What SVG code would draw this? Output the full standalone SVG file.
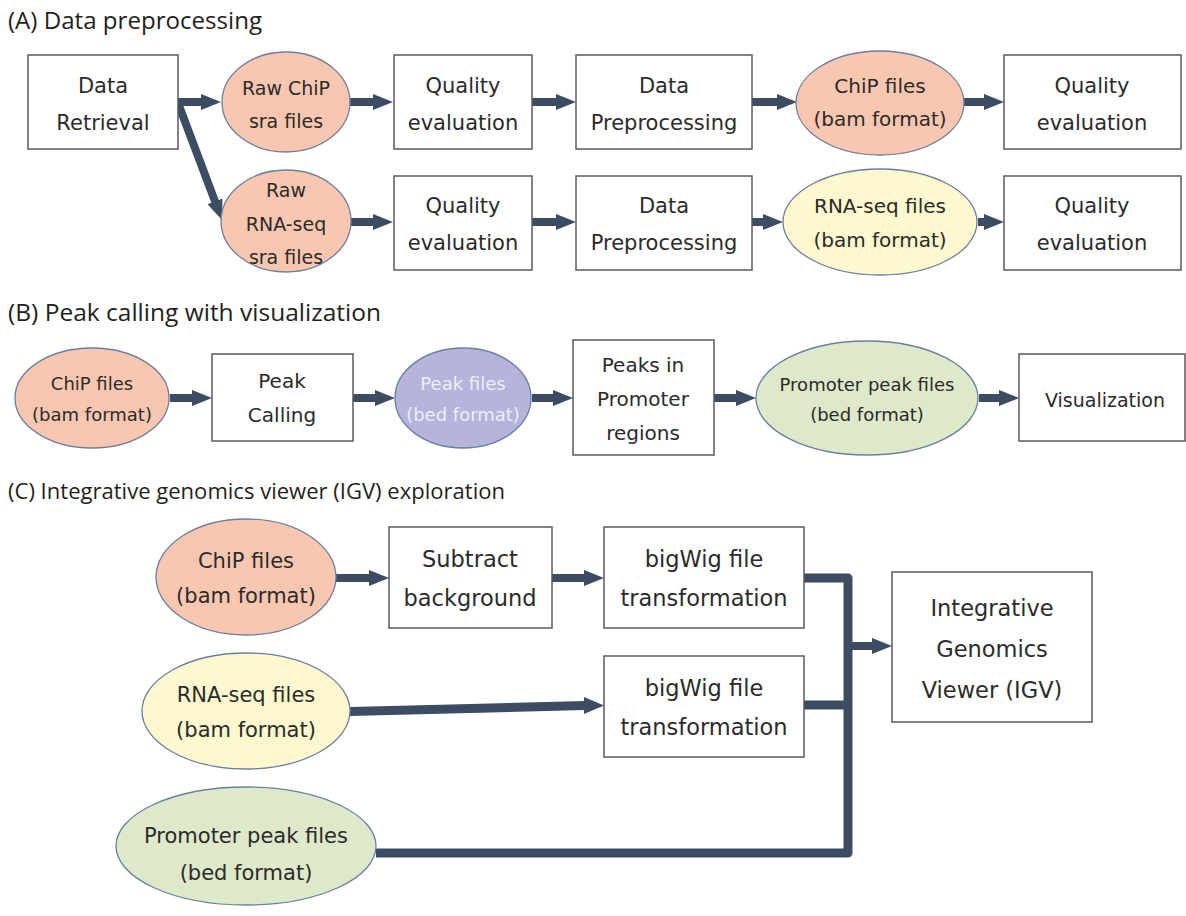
<svg xmlns="http://www.w3.org/2000/svg" width="1186" height="916" viewBox="0 0 1186 916">
<defs>
<style>
.bx{fill:#fff;stroke:#5a5a5a;stroke-width:1.5}
.el{stroke:#6b7fa3;stroke-width:1.3}
.sal{fill:#f9c7af}
.yel{fill:#fdf8cd}
.pur{fill:#b6b4db}
.grn{fill:#dde9c8}
.t{font-family:"DejaVu Sans",Verdana,sans-serif;fill:#2b2b2b;text-anchor:middle}
.ttl{font-family:"Open Sans","Liberation Sans",sans-serif;fill:#231f20}
.ar{fill:none;stroke:#3c4c63;stroke-width:8;marker-end:url(#ah)}
.bus{fill:none;stroke:#3c4c63;stroke-width:9;stroke-linejoin:round}
</style>
<marker id="ah" markerUnits="userSpaceOnUse" markerWidth="20" markerHeight="16" viewBox="0 0 20 16" refX="1" refY="8" orient="auto">
<path d="M0,0 L20,8 L0,16 z" fill="#3c4c63"/>
</marker>
</defs>
<rect width="1186" height="916" fill="#fff"/>

<text class="ttl" x="8" y="29" font-size="24" textLength="254" lengthAdjust="spacingAndGlyphs">(A) Data preprocessing</text>
<text class="ttl" x="8" y="321" font-size="24" textLength="373" lengthAdjust="spacingAndGlyphs">(B) Peak calling with visualization</text>
<text class="ttl" x="8" y="499" font-size="21" textLength="497" lengthAdjust="spacingAndGlyphs">(C) Integrative genomics viewer (IGV) exploration</text>

<g id="connectors">
<line class="ar" x1="176" y1="102" x2="202" y2="102"/>
<line class="ar" x1="178" y1="103" x2="215.3" y2="202.2"/>
<line class="ar" x1="350" y1="102" x2="374" y2="102"/>
<line class="ar" x1="532" y1="102" x2="557" y2="102"/>
<line class="ar" x1="752" y1="102" x2="778" y2="102"/>
<line class="ar" x1="964" y1="102" x2="985" y2="102"/>
<line class="ar" x1="351" y1="222" x2="374" y2="222"/>
<line class="ar" x1="532" y1="222" x2="557" y2="222"/>
<line class="ar" x1="752" y1="222" x2="764" y2="222"/>
<line class="ar" x1="978" y1="222" x2="985" y2="222"/>

<line class="ar" x1="170" y1="398" x2="193" y2="398"/>
<line class="ar" x1="353" y1="398" x2="376" y2="398"/>
<line class="ar" x1="532" y1="398" x2="554" y2="398"/>
<line class="ar" x1="714" y1="398" x2="737" y2="398"/>
<line class="ar" x1="979" y1="398" x2="1000" y2="398"/>

<line class="ar" x1="336" y1="578" x2="370" y2="578"/>
<line class="ar" x1="552" y1="578" x2="585" y2="578"/>
<path d="M350,707 L350,716 L585,710 L585,701 z" fill="#3c4c63"/>
<path d="M584,697 L604,705.5 L584,714 z" fill="#3c4c63"/>
<path class="bus" d="M804,578 H848 V853 H376"/>
<path class="bus" d="M804,705 H848"/>
<line class="ar" x1="848" y1="646" x2="873" y2="646"/>
</g>

<g id="a-data-retrieval"><rect class="bx" x="28" y="55" width="150" height="94"/>
<text class="t" x="103" y="93" font-size="21">Data</text><text class="t" x="103" y="130" font-size="21">Retrieval</text></g>
<g id="a-raw-chip"><ellipse class="el sal" cx="286" cy="102" rx="64" ry="50"/>
<text class="t" x="286" y="95" font-size="19">Raw ChiP</text><text class="t" x="286" y="128" font-size="19">sra files</text></g>
<g id="a-raw-rna"><ellipse class="el sal" cx="286" cy="221" rx="65" ry="51"/>
<text class="t" x="286" y="197" font-size="19">Raw</text><text class="t" x="286" y="231" font-size="19">RNA-seq</text><text class="t" x="286" y="264" font-size="19">sra files</text></g>
<g id="a-qe1"><rect class="bx" x="394" y="55" width="138" height="94"/>
<text class="t" x="463" y="93" font-size="21">Quality</text><text class="t" x="463" y="130" font-size="21">evaluation</text></g>
<g id="a-dp1"><rect class="bx" x="576" y="55" width="176" height="94"/>
<text class="t" x="664" y="93" font-size="21">Data</text><text class="t" x="664" y="130" font-size="21">Preprocessing</text></g>
<g id="a-chip-bam"><ellipse class="el sal" cx="880" cy="103" rx="84" ry="52"/>
<text class="t" x="880" y="93" font-size="20">ChiP files</text><text class="t" x="880" y="126" font-size="20">(bam format)</text></g>
<g id="a-qe2"><rect class="bx" x="1004" y="55" width="177" height="94"/>
<text class="t" x="1092" y="93" font-size="21">Quality</text><text class="t" x="1092" y="130" font-size="21">evaluation</text></g>
<g id="a-qe3"><rect class="bx" x="394" y="176" width="138" height="94"/>
<text class="t" x="463" y="213" font-size="21">Quality</text><text class="t" x="463" y="250" font-size="21">evaluation</text></g>
<g id="a-dp2"><rect class="bx" x="576" y="176" width="176" height="94"/>
<text class="t" x="664" y="213" font-size="21">Data</text><text class="t" x="664" y="250" font-size="21">Preprocessing</text></g>
<g id="a-rna-bam"><ellipse class="el yel" cx="880" cy="222" rx="97" ry="53"/>
<text class="t" x="880" y="213" font-size="20">RNA-seq files</text><text class="t" x="880" y="247" font-size="20">(bam format)</text></g>
<g id="a-qe4"><rect class="bx" x="1004" y="176" width="177" height="94"/>
<text class="t" x="1092" y="213" font-size="21">Quality</text><text class="t" x="1092" y="250" font-size="21">evaluation</text></g>

<g id="b-chip"><ellipse class="el sal" cx="92" cy="398" rx="77" ry="50"/>
<text class="t" x="92" y="390" font-size="18">ChiP files</text><text class="t" x="92" y="421" font-size="18">(bam format)</text></g>
<g id="b-peak-calling"><rect class="bx" x="212" y="354" width="141" height="87"/>
<text class="t" x="282" y="388" font-size="20">Peak</text><text class="t" x="282" y="422" font-size="20">Calling</text></g>
<g id="b-peak-files"><ellipse class="el pur" cx="463" cy="398" rx="68" ry="50"/>
<text class="t" x="463" y="390" font-size="18" style="fill:#eeeef8">Peak files</text><text class="t" x="463" y="421" font-size="18" style="fill:#eeeef8">(bed format)</text></g>
<g id="b-peaks-promoter"><rect class="bx" x="573" y="340" width="141" height="115"/>
<text class="t" x="643" y="372" font-size="20">Peaks in</text><text class="t" x="643" y="406" font-size="20">Promoter</text><text class="t" x="643" y="440" font-size="20">regions</text></g>
<g id="b-promoter-peak"><ellipse class="el grn" cx="867" cy="398" rx="111" ry="57"/>
<text class="t" x="867" y="391" font-size="18">Promoter peak files</text><text class="t" x="867" y="421" font-size="18">(bed format)</text></g>
<g id="b-visualization"><rect class="bx" x="1019" y="354" width="166" height="87"/>
<text class="t" x="1105" y="407" font-size="19">Visualization</text></g>

<g id="c-chip"><ellipse class="el sal" cx="246" cy="577" rx="90" ry="58"/>
<text class="t" x="246" y="568" font-size="21">ChiP files</text><text class="t" x="246" y="603" font-size="21">(bam format)</text></g>
<g id="c-subtract"><rect class="bx" x="389" y="527" width="163" height="101"/>
<text class="t" x="470" y="567" font-size="22.5">Subtract</text><text class="t" x="470" y="606" font-size="22.5">background</text></g>
<g id="c-bigwig1"><rect class="bx" x="604" y="527" width="200" height="101"/>
<text class="t" x="704" y="567" font-size="22.5">bigWig file</text><text class="t" x="704" y="606" font-size="22.5">transformation</text></g>
<g id="c-rna"><ellipse class="el yel" cx="246" cy="711" rx="104" ry="58"/>
<text class="t" x="246" y="702" font-size="21">RNA-seq files</text><text class="t" x="246" y="737" font-size="21">(bam format)</text></g>
<g id="c-bigwig2"><rect class="bx" x="604" y="656" width="200" height="101"/>
<text class="t" x="704" y="696" font-size="22.5">bigWig file</text><text class="t" x="704" y="735" font-size="22.5">transformation</text></g>
<g id="c-promoter"><ellipse class="el grn" cx="246" cy="846" rx="130" ry="59"/>
<text class="t" x="246" y="843" font-size="21">Promoter peak files</text><text class="t" x="246" y="880" font-size="21">(bed format)</text></g>
<g id="c-igv"><rect class="bx" x="892" y="572" width="200" height="150"/>
<text class="t" x="992" y="616" font-size="22.5">Integrative</text><text class="t" x="992" y="657" font-size="22.5">Genomics</text><text class="t" x="992" y="698" font-size="22.5">Viewer (IGV)</text></g>
</svg>
